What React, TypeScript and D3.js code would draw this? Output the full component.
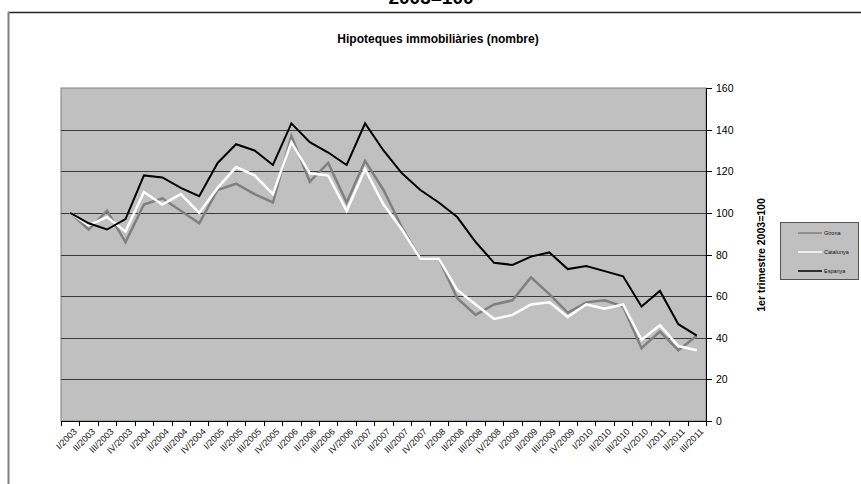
import * as d3 from "d3";
import React from "react";

const trimestres = ["I", "II", "III", "IV"];
const anys = [2003, 2004, 2005, 2006, 2007, 2008, 2009, 2010, 2011];
const categories = anys
  .flatMap((a) => trimestres.map((t) => `${t}/${a}`))
  .slice(0, 35);

const girona = [
  100, 92, 101, 86, 104, 107, 101, 95, 111, 114, 109, 105, 137, 115, 124, 105,
  125, 111, 93, 78, 78, 59, 51, 56, 58, 69, 61, 52, 57, 58, 55, 35, 43, 34, 41,
];
const catalunya = [
  100, 94, 98, 91, 110, 104, 109, 100, 112, 122, 118, 109, 134, 119, 118, 101,
  121, 104, 92, 78, 78, 63, 56, 49, 51, 56, 57, 50, 56, 54, 56, 39, 46, 36, 34,
];
const espanya = [
  100, 95, 92, 97, 118, 117, 112, 108, 124, 133, 130, 123, 143, 134, 129, 123,
  143, 130, 119, 111, 105, 98, 86, 76, 75, 79, 81, 73, 74.5, 72, 69.5, 55, 62.5,
  46.5, 41,
];
const yTicks = [0, 20, 40, 60, 80, 100, 120, 140, 160];

const series = [
  { name: "Girona", values: girona, color: "#808080", width: 2.5 },
  { name: "Catalunya", values: catalunya, color: "#ffffff", width: 2.5 },
  { name: "Espanya", values: espanya, color: "#000000", width: 2 },
];

const W = 861;
const H = 484;
const plot = { left: 61, top: 88, right: 706, bottom: 421 };

export default function App() {
  const x = d3
    .scaleBand<string>()
    .domain(categories)
    .range([plot.left, plot.right]);
  const y = d3.scaleLinear().domain([0, 160]).range([plot.bottom, plot.top]);

  const line = d3
    .line<number>()
    .x((_, i) => x(categories[i])! + x.bandwidth() / 2)
    .y((d) => y(d));

  // category boundaries for the x ticks
  const boundaries = categories.map((c) => x(c)!).concat([plot.right]);

  return (
    <svg
      width={W}
      height={H}
      style={{ position: "absolute", left: 0, top: 0, fontFamily: "Arial, 'Liberation Sans', sans-serif" }}
    >
      <rect x={0} y={0} width={W} height={H} fill="#fff" />
      <text x={431} y={4} textAnchor="middle" fontSize={19} fontWeight="bold">
        2003=100
      </text>
      <line x1={8} x2={W} y1={12.5} y2={12.5} stroke="#222" strokeWidth={1.5} />
      <line x1={8.5} x2={8.5} y1={12} y2={H} stroke="#808080" strokeWidth={2} />

      <text x={438} y={43} textAnchor="middle" fontSize={12} fontWeight="bold">
        Hipoteques immobiliàries (nombre)
      </text>

      <rect
        x={plot.left}
        y={plot.top}
        width={plot.right - plot.left}
        height={plot.bottom - plot.top}
        fill="#c0c0c0"
        stroke="#808080"
        strokeWidth={1}
      />
      {yTicks.slice(1, -1).map((t) => (
        <line
          key={t}
          x1={plot.left}
          x2={plot.right}
          y1={Math.round(y(t)) + 0.5}
          y2={Math.round(y(t)) + 0.5}
          stroke="#3a3a3a"
          strokeWidth={1}
        />
      ))}

      {series.map((s) => (
        <path
          key={s.name}
          d={line(s.values)!}
          fill="none"
          stroke={s.color}
          strokeWidth={s.width}
          strokeLinejoin="miter"
        />
      ))}

      {/* right axis */}
      <line x1={plot.right + 0.5} x2={plot.right + 0.5} y1={plot.top} y2={plot.bottom} stroke="#000" />
      {yTicks.map((t) => (
        <g key={t} transform={`translate(${plot.right}, ${Math.round(y(t)) + 0.5})`}>
          <line x1={0} x2={6} stroke="#000" />
          <text x={10} dy="0.35em" fontSize={10.5}>
            {t}
          </text>
        </g>
      ))}
      <text
        transform={`translate(765, 255) rotate(-90)`}
        textAnchor="middle"
        fontSize={10.5}
        fontWeight="bold"
      >
        1er trimestre 2003=100
      </text>

      {/* bottom axis */}
      <line x1={plot.left} x2={plot.right} y1={plot.bottom + 0.5} y2={plot.bottom + 0.5} stroke="#000" />
      {boundaries.map((b, i) => (
        <line
          key={i}
          x1={Math.round(b) + 0.5}
          x2={Math.round(b) + 0.5}
          y1={plot.bottom}
          y2={plot.bottom + 5}
          stroke="#000"
        />
      ))}
      {categories.map((c) => (
        <text
          key={c}
          transform={`translate(${x(c)! + x.bandwidth() / 2 + 5}, ${plot.bottom + 9}) rotate(-45)`}
          textAnchor="end"
          dy="0.35em"
          fontSize={9}
          fill="#111"
        >
          {c}
        </text>
      ))}

      {/* legend */}
      <rect x={780.5} y={222.5} width={78} height={57} fill="#c0c0c0" stroke="#555" />
      {series.map((s, i) => (
        <g key={s.name} transform={`translate(798, ${233 + i * 19})`}>
          <line x1={0} x2={24} stroke={s.color} strokeWidth={s.width === 2 ? 1.5 : 1.5} />
          <text x={26} dy="0.35em" fontSize={5.5} fill="#111">
            {s.name}
          </text>
        </g>
      ))}
    </svg>
  );
}
